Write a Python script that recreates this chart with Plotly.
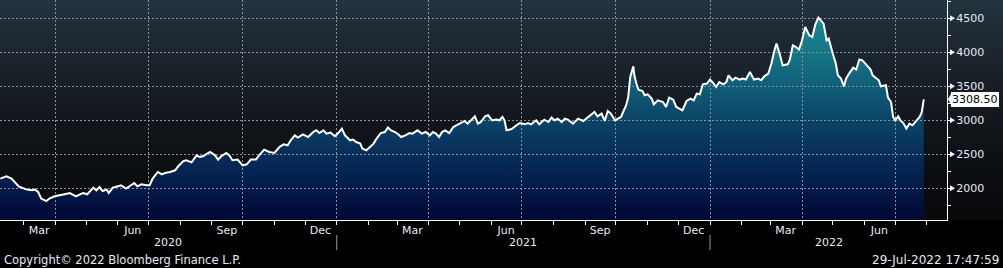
import datetime as dt
import plotly.graph_objects as go

# ---------------- data ----------------
DATES = [
    "2020-02-07", "2020-02-13", "2020-02-18", "2020-02-21", "2020-02-25", "2020-02-28",
    "2020-03-04", "2020-03-09", "2020-03-12", "2020-03-15", "2020-03-18", "2020-03-23",
    "2020-03-26", "2020-03-31", "2020-04-05", "2020-04-10", "2020-04-15", "2020-04-18",
    "2020-04-21", "2020-04-25", "2020-04-28", "2020-05-02", "2020-05-08", "2020-05-11",
    "2020-05-14", "2020-05-17", "2020-05-21", "2020-05-23", "2020-05-27", "2020-06-01",
    "2020-06-04", "2020-06-09", "2020-06-14", "2020-06-17", "2020-06-20", "2020-06-24",
    "2020-06-29", "2020-07-02", "2020-07-05", "2020-07-10", "2020-07-14", "2020-07-17",
    "2020-07-22", "2020-07-27", "2020-07-30", "2020-08-04", "2020-08-07", "2020-08-12",
    "2020-08-17", "2020-08-20", "2020-08-23", "2020-08-30", "2020-09-04", "2020-09-07",
    "2020-09-10", "2020-09-15", "2020-09-18", "2020-09-21", "2020-09-26", "2020-10-01",
    "2020-10-05", "2020-10-09", "2020-10-14", "2020-10-17", "2020-10-22", "2020-10-27",
    "2020-11-01", "2020-11-06", "2020-11-10", "2020-11-14", "2020-11-17", "2020-11-21",
    "2020-11-24", "2020-11-29", "2020-12-04", "2020-12-09", "2020-12-12", "2020-12-15",
    "2020-12-19", "2020-12-22", "2020-12-26", "2020-12-30", "2021-01-02", "2021-01-06",
    "2021-01-09", "2021-01-14", "2021-01-17", "2021-01-20", "2021-01-24", "2021-01-26",
    "2021-01-30", "2021-02-03", "2021-02-06", "2021-02-09", "2021-02-13", "2021-02-17",
    "2021-02-20", "2021-02-23", "2021-02-27", "2021-03-02", "2021-03-05", "2021-03-09",
    "2021-03-13", "2021-03-16", "2021-03-21", "2021-03-25", "2021-03-29", "2021-04-02",
    "2021-04-05", "2021-04-08", "2021-04-11", "2021-04-14", "2021-04-17", "2021-04-21",
    "2021-04-25", "2021-04-28", "2021-05-03", "2021-05-06", "2021-05-09", "2021-05-13",
    "2021-05-16", "2021-05-19", "2021-05-22", "2021-05-26", "2021-05-29", "2021-06-02",
    "2021-06-06", "2021-06-09", "2021-06-12", "2021-06-14", "2021-06-16", "2021-06-21",
    "2021-06-24", "2021-06-27", "2021-06-29", "2021-07-04", "2021-07-07", "2021-07-10",
    "2021-07-15", "2021-07-18", "2021-07-23", "2021-07-27", "2021-07-30", "2021-08-02",
    "2021-08-05", "2021-08-09", "2021-08-12", "2021-08-15", "2021-08-20", "2021-08-25",
    "2021-08-30", "2021-09-02", "2021-09-07", "2021-09-10", "2021-09-13", "2021-09-17",
    "2021-09-20", "2021-09-23", "2021-09-26", "2021-09-30", "2021-10-03", "2021-10-06",
    "2021-10-08", "2021-10-11", "2021-10-13", "2021-10-15", "2021-10-18", "2021-10-19",
    "2021-10-21", "2021-10-23", "2021-10-27", "2021-10-29", "2021-11-01", "2021-11-05",
    "2021-11-07", "2021-11-11", "2021-11-16", "2021-11-19", "2021-11-22", "2021-11-26",
    "2021-11-29", "2021-12-02", "2021-12-05", "2021-12-09", "2021-12-13", "2021-12-16",
    "2021-12-19", "2021-12-22", "2021-12-23", "2021-12-25", "2021-12-29", "2022-01-01",
    "2022-01-04", "2022-01-07", "2022-01-10", "2022-01-14", "2022-01-17", "2022-01-19",
    "2022-01-23", "2022-01-26", "2022-01-30", "2022-02-02", "2022-02-05", "2022-02-09",
    "2022-02-13", "2022-02-17", "2022-02-20", "2022-02-23", "2022-02-27", "2022-03-02",
    "2022-03-05", "2022-03-07", "2022-03-10", "2022-03-13", "2022-03-18", "2022-03-20",
    "2022-03-23", "2022-03-26", "2022-03-29", "2022-04-01", "2022-04-04", "2022-04-08",
    "2022-04-11", "2022-04-14", "2022-04-17", "2022-04-20", "2022-04-22", "2022-04-25",
    "2022-04-27", "2022-05-01", "2022-05-04", "2022-05-06", "2022-05-09", "2022-05-12",
    "2022-05-14", "2022-05-17", "2022-05-21", "2022-05-24", "2022-05-27", "2022-05-30",
    "2022-06-03", "2022-06-07", "2022-06-09", "2022-06-13", "2022-06-15", "2022-06-17",
    "2022-06-22", "2022-06-24", "2022-06-27", "2022-06-29", "2022-07-01", "2022-07-04",
    "2022-07-06", "2022-07-09", "2022-07-12", "2022-07-15", "2022-07-18", "2022-07-22",
    "2022-07-25", "2022-07-27", "2022-07-29",
]
VALUES = [
    2143, 2175, 2143, 2093, 2029, 2010,
    1981, 1971, 1981, 1946, 1849, 1813,
    1849, 1882, 1893, 1912, 1931, 1912,
    1882, 1912, 1931, 1912, 2010, 1971,
    2019, 1960, 1981, 1931, 2010, 2029,
    2044, 1996, 2044, 2078, 2029, 2059,
    2044, 2044, 2143, 2240, 2206, 2225,
    2240, 2265, 2324, 2401, 2412, 2382,
    2485, 2460, 2471, 2534, 2485, 2422,
    2471, 2519, 2485, 2412, 2422, 2338,
    2353, 2422, 2422, 2485, 2569, 2534,
    2519, 2607, 2647, 2632, 2706, 2779,
    2746, 2794, 2754, 2828, 2853, 2813,
    2853, 2804, 2820, 2765, 2804, 2878,
    2779, 2706, 2716, 2681, 2657, 2584,
    2559, 2607, 2657, 2731, 2813, 2828,
    2893, 2853, 2828, 2794, 2754, 2779,
    2813, 2804, 2853, 2804, 2828, 2779,
    2828, 2804, 2754, 2828, 2853, 2813,
    2901, 2926, 2960, 2990, 2951, 3010,
    3059, 2951, 2975, 3059, 3074, 3000,
    3010, 3000, 3049, 3000, 2853, 2872,
    2912, 2941, 2960, 2941, 2960, 2941,
    3000, 2941, 3010, 2975, 3040, 3000,
    3025, 2975, 3025, 3010, 2951, 3025,
    2990, 3025, 3074, 3122, 3059, 3099,
    2990, 3137, 3099, 3000, 3025, 3049,
    3122, 3221, 3343, 3637, 3794, 3662,
    3540, 3451, 3431, 3368, 3382, 3319,
    3235, 3294, 3269, 3196, 3334, 3304,
    3196, 3172, 3147, 3284, 3319, 3294,
    3393, 3382, 3441, 3529, 3540, 3599,
    3549, 3490, 3563, 3529, 3563, 3662,
    3588, 3628, 3599, 3613, 3599, 3710,
    3599, 3613, 3588, 3647, 3687, 3834,
    4029, 4128, 3981, 3809, 3824, 3893,
    4103, 4078, 4040, 4176, 4372, 4250,
    4225, 4412, 4510, 4446, 4422, 4176,
    4201, 3981, 3834, 3662, 3613, 3500,
    3613, 3687, 3775, 3746, 3893, 3882,
    3809, 3746, 3662, 3613, 3588, 3500,
    3515, 3334, 3269, 3049, 3000, 3059,
    3000, 2960, 2878, 2951, 2926, 3000,
    3049, 3122, 3308.50,
]
LAST_LABEL = "3308.50"

Y_TICKS = [2000, 2500, 3000, 3500, 4000, 4500]
Y_RANGE = [1534, 4769]
X_RANGE = ["2020-02-06 17:00", "2022-08-20 17:00"]
GRID_DATES = ["2020-04-01", "2020-07-01", "2020-10-01", "2021-01-01", "2021-04-01",
              "2021-07-01", "2021-10-01", "2022-01-01", "2022-04-01", "2022-07-01"]
MONTH_LABEL_DATES = ["2020-03-16", "2020-06-15 12:00", "2020-09-15 12:00", "2020-12-16",
                     "2021-03-16", "2021-06-15 12:00", "2021-09-15 12:00", "2021-12-16",
                     "2022-03-16", "2022-06-15 12:00"]
MONTH_LABELS = ["Mar", "Jun", "Sep", "Dec", "Mar", "Jun", "Sep", "Dec", "Mar", "Jun"]
YEARS = [2020, 2021, 2022]
COPYRIGHT = "Copyright© 2022 Bloomberg Finance L.P."
STAMP = "29-Jul-2022 17:47:59"

# ---------------- layout geometry ----------------
W, H = 1003, 268
M_L, M_R, M_T, M_B = 0, 56, 0, 48
PW = W - M_L - M_R
PH = H - M_T - M_B
FONT = "DejaVu Sans"
TXT = "#e6ebf3"


def py(px):
    """pixel row -> paper y"""
    return (PH - (px - M_T)) / PH


def px_x(px):
    return (px - M_L) / PW


fig = go.Figure()

# filled area (subplot 1)
fig.add_trace(go.Scatter(
    x=DATES, y=VALUES, mode="lines", line=dict(width=0, color="rgba(0,0,0,0)"),
    fill="tozeroy",
    fillgradient=dict(
        type="vertical", start=Y_RANGE[0], stop=4600,
        colorscale=[[0.0, "#020734"], [0.15, "#041a4a"], [0.31, "#072d5a"],
                    [0.48, "#0b4466"], [0.64, "#105d78"], [0.80, "#157686"],
                    [1.0, "#1a8896"]],
    ),
    hoverinfo="skip", showlegend=False, xaxis="x", yaxis="y",
))

# price line (subplot 2, drawn above its own grid)
fig.add_trace(go.Scatter(
    x=DATES, y=VALUES, mode="lines", line=dict(color="#ffffff", width=2),
    showlegend=False, xaxis="x2", yaxis="y2",
))

# background gradient bands (paper)
stops = [(0.0, (35, 52, 63)), (0.15, (30, 42, 52)), (0.45, (22, 27, 34)),
         (0.68, (14, 17, 21)), (1.0, (8, 9, 11))]


def bg_color(t):
    for (t0, c0), (t1, c1) in zip(stops[:-1], stops[1:]):
        if t0 <= t <= t1:
            f = (t - t0) / (t1 - t0)
            return "rgb(%d,%d,%d)" % tuple(round(a + (b - a) * f) for a, b in zip(c0, c1))
    return "rgb(%d,%d,%d)" % stops[-1][1]


shapes = []
N = 110
for i in range(N):
    t = (i + 0.5) / N  # 0 top -> 1 bottom
    shapes.append(dict(type="rect", xref="paper", yref="paper", layer="below",
                       x0=0, x1=W / PW, y0=1 - (i + 1) / N, y1=1 - i / N,
                       fillcolor=bg_color(t), line=dict(width=0)))

# y tick triangles
for v in Y_TICKS:
    shapes.append(dict(type="path", xref="paper", yref="y", xsizemode="pixel",
                       ysizemode="pixel", xanchor=1, yanchor=v,
                       path="M3,-3 L8,0 L3,3 Z", fillcolor="#ffffff",
                       line=dict(width=0), layer="above"))

# last value tag tip
shapes.append(dict(type="path", xref="paper", yref="y", xsizemode="pixel",
                   ysizemode="pixel", xanchor=1, yanchor=VALUES[-1],
                   path="M1,0 L5,7 L5,-7 Z", fillcolor="#ffffff",
                   line=dict(width=0), layer="above"))

# year separators
for yr in YEARS[1:]:
    d = "%d-01-01" % yr
    shapes.append(dict(type="line", xref="x", yref="paper", x0=d, x1=d,
                       y0=py(235), y1=py(250), line=dict(color="#9a9a9a", width=1)))

annotations = []
# year labels, centered on visible portion of each year
r0 = dt.datetime.strptime(X_RANGE[0], "%Y-%m-%d %H:%M")
r1 = dt.datetime.strptime(X_RANGE[1], "%Y-%m-%d %H:%M")
for yr in YEARS:
    a = max(dt.datetime(yr, 1, 1), r0)
    b = min(dt.datetime(yr + 1, 1, 1), r1)
    mid = a + (b - a) / 2
    annotations.append(dict(x=mid.strftime("%Y-%m-%d %H:%M"), y=py(242), xref="x", yref="paper",
                            text=str(yr), showarrow=False, xanchor="center", yanchor="middle",
                            font=dict(family=FONT, size=11, color=TXT)))

annotations.append(dict(x=px_x(2), y=py(260), xref="paper", yref="paper", text=COPYRIGHT,
                        showarrow=False, xanchor="left", yanchor="middle",
                        font=dict(family=FONT, size=11.5, color=TXT)))
annotations.append(dict(x=px_x(1001), y=py(260), xref="paper", yref="paper", text=STAMP,
                        showarrow=False, xanchor="right", yanchor="middle",
                        font=dict(family=FONT, size=12, color=TXT)))
annotations.append(dict(x=1, y=VALUES[-1], xref="paper", yref="y", text=LAST_LABEL,
                        showarrow=False, xanchor="left", yanchor="middle", xshift=4,
                        bgcolor="#ffffff", bordercolor="#ffffff", borderwidth=1, borderpad=0,
                        font=dict(family=FONT, size=11, color="#000000")))

grid = dict(showgrid=True, gridcolor="rgb(138,146,148)", gridwidth=1, griddash="2px,2px")

fig.update_layout(
    width=W, height=H,
    margin=dict(l=M_L, r=M_R, t=M_T, b=M_B, pad=0),
    paper_bgcolor="#000000", plot_bgcolor="rgba(0,0,0,0)",
    font=dict(family=FONT, size=11, color=TXT),
    showlegend=False,
    shapes=shapes, annotations=annotations,
    xaxis=dict(
        type="date", range=X_RANGE, domain=[0, 1], anchor="y",
        showgrid=False, zeroline=False,
        showline=True, linecolor="#ffffff", linewidth=1,
        tickmode="array", tickvals=MONTH_LABEL_DATES, ticktext=MONTH_LABELS,
        ticks="", tickfont=dict(family=FONT, size=11, color=TXT),
        minor=dict(ticks="outside", ticklen=4, tickcolor="#ffffff", tickwidth=1,
                   dtick="M1", tick0="2020-01-01", showgrid=False),
    ),
    yaxis=dict(
        range=Y_RANGE, domain=[0, 1], anchor="x", side="right",
        showgrid=False, zeroline=False,
        showline=True, linecolor="#ffffff", linewidth=1,
        tickmode="array", tickvals=Y_TICKS,
        ticks="outside", ticklen=6, tickcolor="#ffffff", tickwidth=1,
        tickfont=dict(family=FONT, size=11, color=TXT),
        minor=dict(ticks="outside", ticklen=3, tickcolor="#ffffff", dtick=250,
                   tick0=0, showgrid=False),
    ),
    xaxis2=dict(
        type="date", range=X_RANGE, domain=[0, 1], anchor="y2", matches="x",
        tickmode="array", tickvals=GRID_DATES, showticklabels=False, ticks="",
        showline=False, zeroline=False, **grid,
    ),
    yaxis2=dict(
        range=Y_RANGE, domain=[0, 1], anchor="x2", side="right",
        tickmode="array", tickvals=Y_TICKS, showticklabels=False, ticks="",
        showline=False, zeroline=False, **grid,
    ),
)

fig.write_html("out.html")
